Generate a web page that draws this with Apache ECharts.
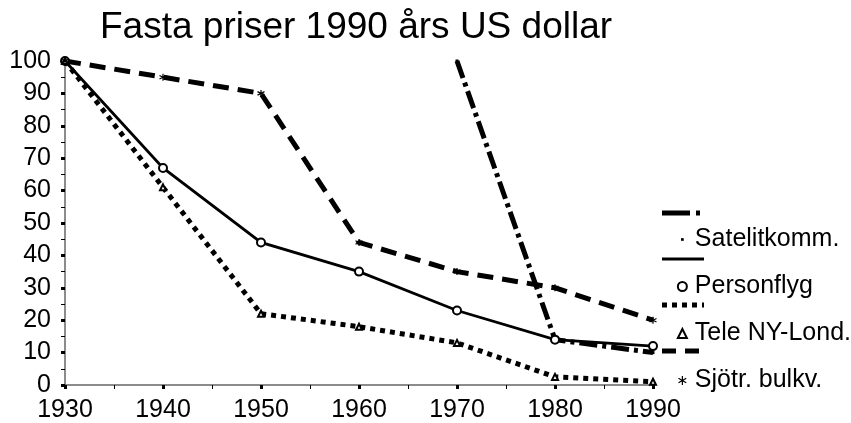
<!DOCTYPE html>
<html>
<head>
<meta charset="utf-8">
<title>Fasta priser 1990 års US dollar</title>
<script src="https://cdn.jsdelivr.net/npm/echarts@6/dist/echarts.min.js"></script>
<style>
  html, body { margin: 0; padding: 0; background: #fff; }
  #chart { width: 851px; height: 423px; }
</style>
</head>
<body>
<div id="chart"></div>
<script>
// data (index 1930 = 100)
const years = [1930, 1940, 1950, 1960, 1970, 1980, 1990]
const satelit = [null, null, null, null, 100, 14, 10]
const personflyg = [100, 67, 44, 35, 23, 14, 12]
const tele = [100, 61, 22, 18, 13, 2.5, 1]
const sjotr = [100, 95, 90, 44, 35, 30, 20]
const seriesNames = ['Satelitkomm.', 'Personflyg', 'Tele NY-Lond.', 'Sjötr. bulkv.']

const font = '"Liberation Sans", Arial, sans-serif'
const star = 'path://M5 0L5 10M0.7 2.5L9.3 7.5M0.7 7.5L9.3 2.5'
// small square with an empty frame round it, so the legend keeps it tiny
const smallSquare = 'path://M0 0M10 10M3.5 3.5h3v3h-3z'

const pairs = arr => years.map((y, i) => [y, arr[i]])

const chart = echarts.init(document.getElementById('chart'))

const lineSeries = (name, data, lineStyle, symbol, symbolSize, itemStyle) => ({
  name,
  type: 'line',
  data: pairs(data),
  connectNulls: false,
  symbol,
  symbolSize,
  showSymbol: true,
  lineStyle: Object.assign({ color: '#000', cap: 'butt', join: 'miter' }, lineStyle),
  itemStyle,
  emphasis: { disabled: true }
})

chart.setOption({
  animation: false,
  backgroundColor: '#fff',
  textStyle: { fontFamily: font },
  title: {
    text: 'Fasta priser 1990 års US dollar',
    left: 95,
    top: 4,
    textStyle: { fontSize: 37, fontWeight: 'normal', color: '#000', fontFamily: font }
  },
  grid: { left: 65, right: 198, top: 61, bottom: 37, containLabel: false },
  legend: {
    orient: 'vertical',
    left: 671,
    top: 216,
    itemWidth: 9,
    itemHeight: 9,
    itemGap: 10,
    // the markers sit a little above the names in the original
    textStyle: { fontSize: 25, color: '#000', lineHeight: 25, padding: [12, 0, 0, 3], fontFamily: font },
    data: [
      { name: seriesNames[0], icon: smallSquare, itemStyle: { color: '#000' } },
      { name: seriesNames[1], icon: 'emptyCircle', itemStyle: { color: '#000', borderColor: '#000', borderWidth: 1 } },
      { name: seriesNames[2], icon: 'emptyTriangle', itemStyle: { color: '#000', borderColor: '#000', borderWidth: 1 } },
      { name: seriesNames[3], icon: star, itemStyle: { color: 'none', borderColor: '#000', borderWidth: 1.2 } }
    ],
    selectedMode: false
  },
  xAxis: {
    type: 'value',
    min: 1930,
    max: 1990,
    interval: 10,
    axisLine: { lineStyle: { color: '#666', width: 1.5 } },
    axisTick: { show: true, length: 4, inside: false, lineStyle: { color: '#000', width: 3 } },
    minorTick: { show: true, splitNumber: 2, length: 4, lineStyle: { color: '#000', width: 1 } },
    splitLine: { show: false },
    axisLabel: { fontSize: 25, color: '#000', margin: 13, fontFamily: font, formatter: v => String(v) }
  },
  yAxis: {
    type: 'value',
    min: 0,
    max: 100,
    interval: 10,
    axisLine: { show: true, lineStyle: { color: '#666', width: 1.5 } },
    axisTick: { show: true, length: 4, inside: false, lineStyle: { color: '#000', width: 3 } },
    minorTick: { show: true, splitNumber: 2, length: 4, lineStyle: { color: '#000', width: 1 } },
    splitLine: { show: false },
    axisLabel: {
      fontSize: 25,
      lineHeight: 20,
      color: '#000',
      margin: 14,
      fontFamily: font,
      showMinLabel: true,
      hideOverlap: false
    }
  },
  series: [
    lineSeries(seriesNames[0], satelit, { width: 5, type: [18, 5, 4, 5] }, 'rect', 3,
      { color: '#000' }),
    lineSeries(seriesNames[1], personflyg, { width: 2.8, type: 'solid' }, 'emptyCircle', 8,
      { color: '#000', borderColor: '#000', borderWidth: 1 }),
    lineSeries(seriesNames[2], tele, { width: 5, type: [5, 5] }, 'emptyTriangle', 6,
      { color: '#000', borderColor: '#000', borderWidth: 1 }),
    lineSeries(seriesNames[3], sjotr, { width: 5, type: [16, 9] }, star, 7,
      { color: 'none', borderColor: '#000', borderWidth: 1.2 })
  ],
  // line samples drawn above each legend entry, as in the original
  graphic: [
    { type: 'line', shape: { x1: 662, y1: 213, x2: 704, y2: 213 }, style: { stroke: '#000', lineWidth: 5, lineDash: [28, 6, 4, 6] } },
    { type: 'line', shape: { x1: 662, y1: 259, x2: 704, y2: 259 }, style: { stroke: '#000', lineWidth: 3 } },
    { type: 'line', shape: { x1: 662, y1: 305, x2: 704, y2: 305 }, style: { stroke: '#000', lineWidth: 5, lineDash: [5, 5] } },
    { type: 'line', shape: { x1: 662, y1: 351, x2: 704, y2: 351 }, style: { stroke: '#000', lineWidth: 5, lineDash: [14, 9] } }
  ]
})

window.addEventListener('resize', () => chart.resize())
</script>
</body>
</html>
